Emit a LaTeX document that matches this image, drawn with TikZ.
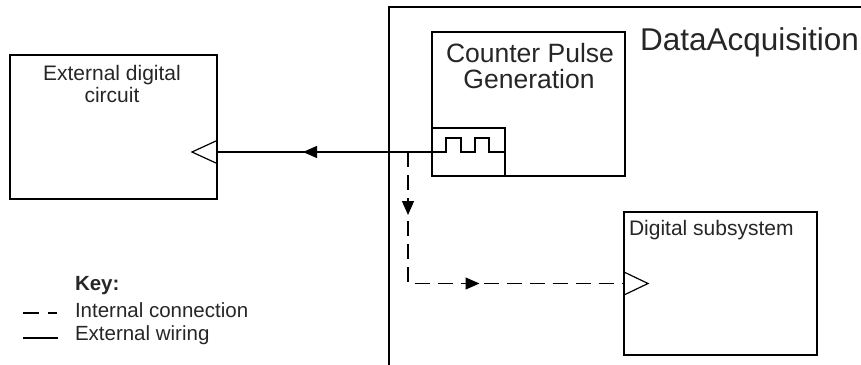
\documentclass[tikz,border=0pt]{standalone}
\usepackage{fontspec}
\setmainfont{Liberation Sans}
\usetikzlibrary{arrows.meta,decorations.markings,calc}
\begin{document}
\begin{tikzpicture}[x=1pt,y=-1pt,
  box/.style={draw=black, line width=1.3pt, inner sep=0pt, outer sep=0pt},
  wire/.style={draw=black, line width=1.3pt},
  dashwire/.style={draw=black, line width=1.3pt, dash pattern=on 15pt off 8pt},
  port/.style={draw=black, line width=1.2pt, line join=miter},
  lbl/.style={inner sep=0pt, outer sep=0pt, text=black!85, anchor=base},
]
\useasboundingbox (0,0) rectangle (861,364);
\clip (0,0) rectangle (861,364);
% outer DataAcquisition frame (extends beyond the picture)
\node[box, minimum width=500pt, minimum height=400pt, anchor=north west] (daq) at (389,7) {};
\node[lbl, anchor=base west, font=\fontsize{31.5}{31.5}\selectfont] (daqlbl) at (640,50) {DataAcquisition};

% External digital circuit
\node[box, minimum width=207pt, minimum height=144pt] (ext) at (113.5,127) {};
\node[lbl, font=\fontsize{21}{22}\selectfont] (extl1) at (112,80) {External digital};
\node[lbl, font=\fontsize{21}{22}\selectfont] (extl2) at (112,102) {circuit};

% Counter Pulse Generation
\node[box, minimum width=193pt, minimum height=144pt] (cpg) at (528.5,104) {};
\node[lbl, font=\fontsize{26.5}{26}\selectfont] (cpgl1) at (530,62) {Counter Pulse};
\node[lbl, font=\fontsize{26.5}{26}\selectfont] (cpgl2) at (529,88) {Generation};
\node[box, minimum width=73pt, minimum height=48pt] (pulse) at (468.5,152) {};
\draw[wire, line join=miter] (pulse.west) -- ++(14,0) -- ++(0,-14) -- ++(15,0) -- ++(0,14)
  -- ++(14,0) -- ++(0,-14) -- ++(14,0) -- ++(0,14) -- (pulse.east);

% Digital subsystem
\node[box, minimum width=193pt, minimum height=143pt] (dig) at (720.5,283.5) {};
\node[lbl, anchor=base west, font=\fontsize{21}{22}\selectfont] (digl) at (629,235) {Digital subsystem};

% ports
\coordinate (extin) at (ext.east |- pulse.west);
\draw[port] ($(extin)+(0,-11.5)$) -- ($(extin)+(-25,0)$) -- ($(extin)+(0,11.5)$);
\draw[port] ($(dig.west)+(0,-11.5)$) -- ($(dig.west)+(24,0)$) -- ($(dig.west)+(0,11.5)$);

% external wiring
\coordinate (jn) at (408,152);
\draw[wire, postaction={decorate}, decoration={markings,
   mark=at position 129pt with {\arrow{Triangle[length=14pt,width=12pt]}}}]
   (pulse.west) -- (extin);

% internal connection
\coordinate (corner) at (jn |- dig.west);
\draw[dashwire, postaction={decorate}, decoration={markings,
   mark=at position 63pt with {\arrow[solid]{Triangle[length=14pt,width=12pt]}},
   mark=at position 203pt with {\arrow[solid]{Triangle[length=14pt,width=12pt]}}}]
   (jn) -- (corner) -- (dig.west);

% key
\node[lbl, anchor=base west, font=\bfseries\fontsize{20.5}{21}\selectfont] (key) at (75,290) {Key:};
\node[lbl, anchor=base west, font=\fontsize{20.5}{21}\selectfont] (keyint) at (75,317) {Internal connection};
\node[lbl, anchor=base west, font=\fontsize{20.5}{21}\selectfont] (keyext) at (75,340) {External wiring};
\draw[wire] (23,313) -- (39,313);
\draw[wire] (48,313) -- (57,313);
\draw[wire] (23,338) -- (58,338);
\end{tikzpicture}
\end{document}
